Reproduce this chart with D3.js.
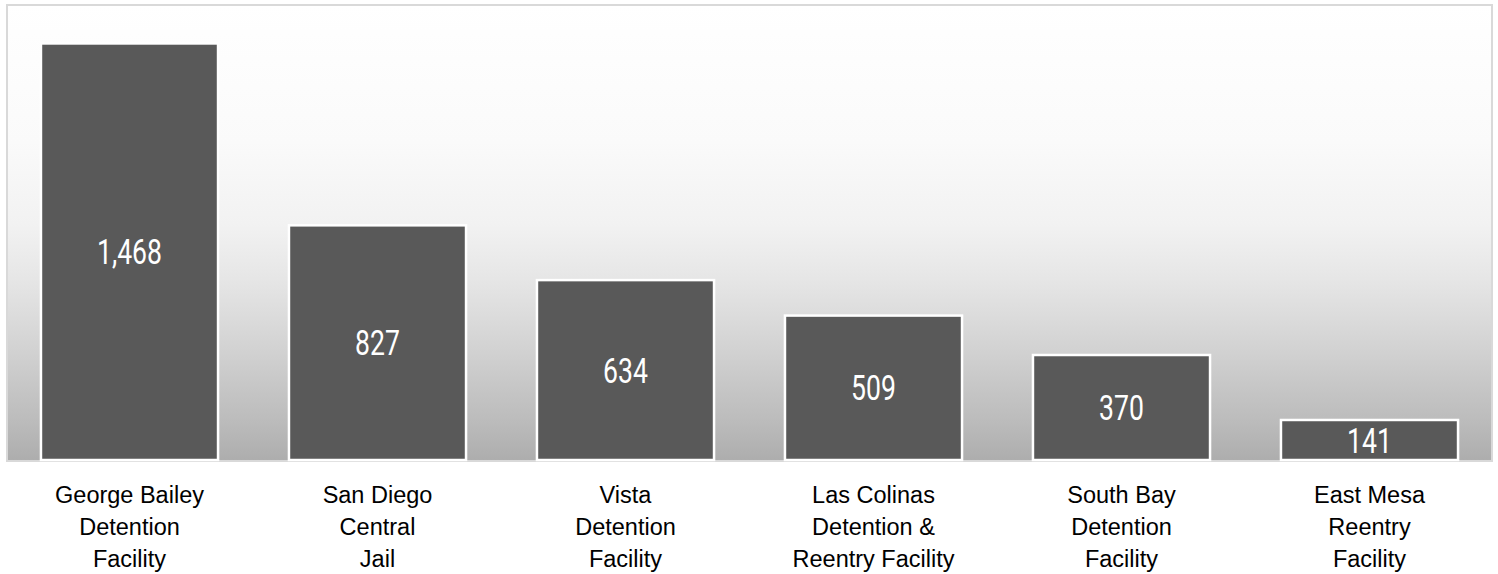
<!DOCTYPE html>
<html>
<head>
<meta charset="utf-8">
<script src="https://cdn.jsdelivr.net/npm/d3@7"></script>
<style>
  html, body { margin: 0; padding: 0; background: #fff; }
  svg { display: block; }
</style>
</head>
<body>
<svg id="chart" width="1498" height="574"></svg>
<script>
// facilities, shown as three label lines each
const facilities = [
  ["George Bailey", "Detention", "Facility"],
  ["San Diego", "Central", "Jail"],
  ["Vista", "Detention", "Facility"],
  ["Las Colinas", "Detention &", "Reentry Facility"],
  ["South Bay", "Detention", "Facility"],
  ["East Mesa", "Reentry", "Facility"]
];
const population = [1468, 827, 634, 509, 370, 141];

const svg = d3.select("#chart");
const plot = { left: 7, top: 5, right: 1492, bottom: 461 };

// background gradient, white at top to grey at bottom
const defs = svg.append("defs");
const grad = defs.append("linearGradient")
  .attr("id", "bg")
  .attr("x1", 0).attr("y1", 0).attr("x2", 0).attr("y2", 1);
[[0, "#ffffff"], [0.3, "#fafafa"], [0.48, "#f2f2f2"], [0.6, "#e6e6e6"],
 [0.68, "#dcdcdc"], [0.77, "#d0d0d0"], [0.91, "#bcbcbc"], [1, "#adadad"]]
  .forEach(s => grad.append("stop").attr("offset", s[0]).attr("stop-color", s[1]));

svg.append("rect")
  .attr("x", plot.left).attr("y", plot.top)
  .attr("width", plot.right - plot.left)
  .attr("height", plot.bottom - plot.top)
  .attr("fill", "url(#bg)")
  .attr("stroke", "#d9d9d9")
  .attr("stroke-width", 2);

const x = d3.scaleBand()
  .domain(d3.range(facilities.length))
  .range([5.5, 1493.5])
  .paddingInner(0.286)
  .paddingOuter(0.143);

const y = d3.scaleLinear()
  .domain([0, 1600])
  .range([460, 6]);

const g = svg.append("g");

g.selectAll(".bar")
  .data(population)
  .enter().append("rect")
  .attr("class", "bar")
  .attr("x", (d, i) => x(i))
  .attr("y", d => y(d))
  .attr("width", x.bandwidth())
  .attr("height", d => y(0) - y(d))
  .attr("fill", "#595959")
  .attr("stroke", "#ffffff")
  .attr("stroke-width", 2.5);

// value labels, condensed look
g.selectAll(".value")
  .data(population)
  .enter().append("text")
  .attr("class", "value")
  .attr("transform", (d, i) => {
    const cx = x(i) + x.bandwidth() / 2;
    const cy = (y(d) + y(0)) / 2;
    return "translate(" + cx + "," + cy + ") scale(0.76,1)";
  })
  .attr("text-anchor", "middle")
  .attr("dy", "0.36em")
  .attr("font-family", "Roboto, sans-serif")
  .attr("font-size", 35)
  .attr("fill", "#ffffff")
  .text(d => d3.format(",")(d));

// category labels
const cat = g.selectAll(".cat")
  .data(facilities)
  .enter().append("text")
  .attr("class", "cat")
  .attr("text-anchor", "middle")
  .attr("font-family", "'Liberation Sans', Arial, sans-serif")
  .attr("font-size", 23.5)
  .attr("fill", "#000000");

cat.selectAll("tspan")
  .data((d, i) => d.map(line => ({ line, i })))
  .enter().append("tspan")
  .attr("x", d => x(d.i) + x.bandwidth() / 2)
  .attr("y", (d, j) => 503 + j * 32)
  .text(d => d.line);
</script>
</body>
</html>
